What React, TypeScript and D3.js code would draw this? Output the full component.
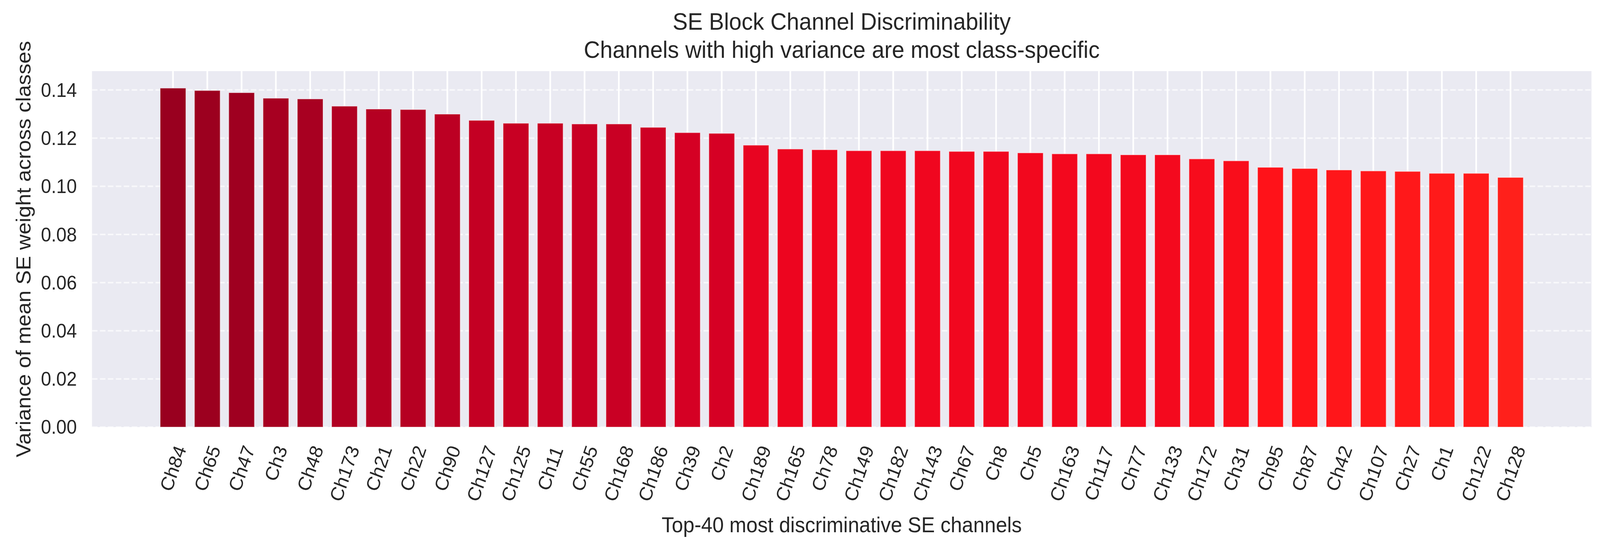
import React from "react";
import * as d3 from "d3";

const channels = [
  "Ch84", "Ch65", "Ch47", "Ch3", "Ch48", "Ch173", "Ch21", "Ch22", "Ch90", "Ch127",
  "Ch125", "Ch11", "Ch55", "Ch168", "Ch186", "Ch39", "Ch2", "Ch189", "Ch165", "Ch78",
  "Ch149", "Ch182", "Ch143", "Ch67", "Ch8", "Ch5", "Ch163", "Ch117", "Ch77", "Ch133",
  "Ch172", "Ch31", "Ch95", "Ch87", "Ch42", "Ch107", "Ch27", "Ch1", "Ch122", "Ch128",
];

const variances = [
  0.1408, 0.1398, 0.1389, 0.1366, 0.1363, 0.1333, 0.1321, 0.1319, 0.1300, 0.1274,
  0.1262, 0.1262, 0.1259, 0.1259, 0.1245, 0.1223, 0.1220, 0.1171, 0.1155, 0.1152,
  0.1148, 0.1148, 0.1148, 0.1145, 0.1145, 0.1139, 0.1135, 0.1135, 0.1131, 0.1131,
  0.1114, 0.1106, 0.1079, 0.1074, 0.1068, 0.1064, 0.1062, 0.1054, 0.1054, 0.1037,
];

const yTicks = [0, 0.02, 0.04, 0.06, 0.08, 0.1, 0.12, 0.14];

const titleLines = [
  "SE Block Channel Discriminability",
  "Channels with high variance are most class-specific",
];
const xLabel = "Top-40 most discriminative SE channels";
const yLabel = "Variance of mean SE weight across classes";

const colorStops = [0.1037, 0.1079, 0.1148, 0.122, 0.13, 0.1408];
const colorRange = ["#ff201b", "#ff1219", "#f0061f", "#d60024", "#bc0023", "#99001f"];

const W = 4331;
const H = 1387;
const M = { left: 249, right: 4308, top: 182, bottom: 1093 };
const FONT = "'Liberation Sans', Arial, Helvetica, sans-serif";
const TICK_FS = 50;
const LABEL_FS = 55;
const TITLE_FS = 61;
const ROT = 70;
const BAR_W = 0.75;

// Arial / Liberation Sans advance widths (em)
const charW = (c: string) => {
  if (c === "C") return 0.722;
  return 0.556;
};
const textLen = (s: string) => s.split("").reduce((a, c) => a + charW(c), 0);

export default function App() {
  const n = channels.length;
  const span = n - 1 + BAR_W;
  const margin = span * 0.05;
  const x = d3
    .scaleLinear()
    .domain([-BAR_W / 2 - margin, n - 1 + BAR_W / 2 + margin])
    .range([M.left, M.right]);
  const yMax = (d3.max(variances) as number) * 1.05;
  const y = d3.scaleLinear().domain([0, yMax]).range([M.bottom, M.top]);
  const color = d3
    .scaleLinear<string>()
    .domain(colorStops)
    .range(colorRange)
    .interpolate(d3.interpolateRgb)
    .clamp(true);

  const plotCx = (M.left + M.right) / 2;
  const plotCy = (M.top + M.bottom) / 2;
  const rad = (ROT * Math.PI) / 180;
  const boxH = 1.117 * TICK_FS;
  const labelTop = 1133;

  return (
    <svg
      viewBox={`0 0 ${W} ${H}`}
      preserveAspectRatio="none"
      style={{
        position: "fixed",
        left: 0,
        top: 0,
        width: "100vw",
        height: "100vh",
        background: "#ffffff",
        display: "block",
      }}
      fontFamily={FONT}
    >
      <rect x={0} y={0} width={W} height={H} fill="#ffffff" />
      <rect
        x={M.left}
        y={M.top}
        width={M.right - M.left}
        height={M.bottom - M.top}
        fill="#eaeaf2"
      />
      {/* vertical grid (solid) */}
      {channels.map((c, i) => (
        <line
          key={"vg" + c}
          x1={x(i)}
          x2={x(i)}
          y1={M.top}
          y2={M.bottom}
          stroke="#ffffff"
          strokeWidth={4.5}
        />
      ))}
      {/* horizontal grid (dashed) */}
      {yTicks.map((t) => (
        <line
          key={"hg" + t}
          x1={M.left}
          x2={M.right}
          y1={y(t)}
          y2={y(t)}
          stroke="#ffffff"
          strokeOpacity={0.65}
          strokeWidth={4}
          strokeDasharray="15 6.5"
        />
      ))}
      {/* bars */}
      {variances.map((v, i) => (
        <rect
          key={"b" + channels[i]}
          x={x(i - BAR_W / 2)}
          y={y(v)}
          width={x(i + BAR_W / 2) - x(i - BAR_W / 2)}
          height={y(0) - y(v)}
          fill={color(v)}
          stroke="#ffffff"
          strokeOpacity={0.5}
          strokeWidth={2}
        />
      ))}
      {/* y tick labels */}
      {yTicks.map((t) => (
        <text
          key={"yt" + t}
          x={M.left - 41}
          y={y(t)}
          dy="0.35em"
          textAnchor="end"
          fontSize={TICK_FS}
          fill="#262626"
        >
          {d3.format(".2f")(t)}
        </text>
      ))}
      {/* x tick labels rotated 70deg, centered on tick */}
      {channels.map((c, i) => {
        const L = textLen(c) * TICK_FS;
        const bh = L * Math.sin(rad) + boxH * Math.cos(rad);
        const py = labelTop + bh / 2;
        return (
          <text
            key={"xt" + c}
            transform={`translate(${x(i)},${py}) rotate(${-ROT})`}
            x={0}
            y={0.3465 * TICK_FS}
            textAnchor="middle"
            fontSize={TICK_FS}
            fill="#262626"
          >
            {c}
          </text>
        );
      })}
      {/* axis labels */}
      <text
        x={plotCx}
        y={1362}
        textAnchor="middle"
        fontSize={LABEL_FS}
        fill="#262626"
      >
        {xLabel}
      </text>
      <text
        transform={`translate(82,${plotCy}) rotate(-90)`}
        textAnchor="middle"
        fontSize={LABEL_FS}
        fill="#262626"
      >
        {yLabel}
      </text>
      {/* title */}
      {titleLines.map((t, k) => (
        <text
          key={"title" + k}
          x={plotCx}
          y={76 + k * 72}
          textAnchor="middle"
          fontSize={TITLE_FS}
          fill="#262626"
        >
          {t}
        </text>
      ))}
    </svg>
  );
}
